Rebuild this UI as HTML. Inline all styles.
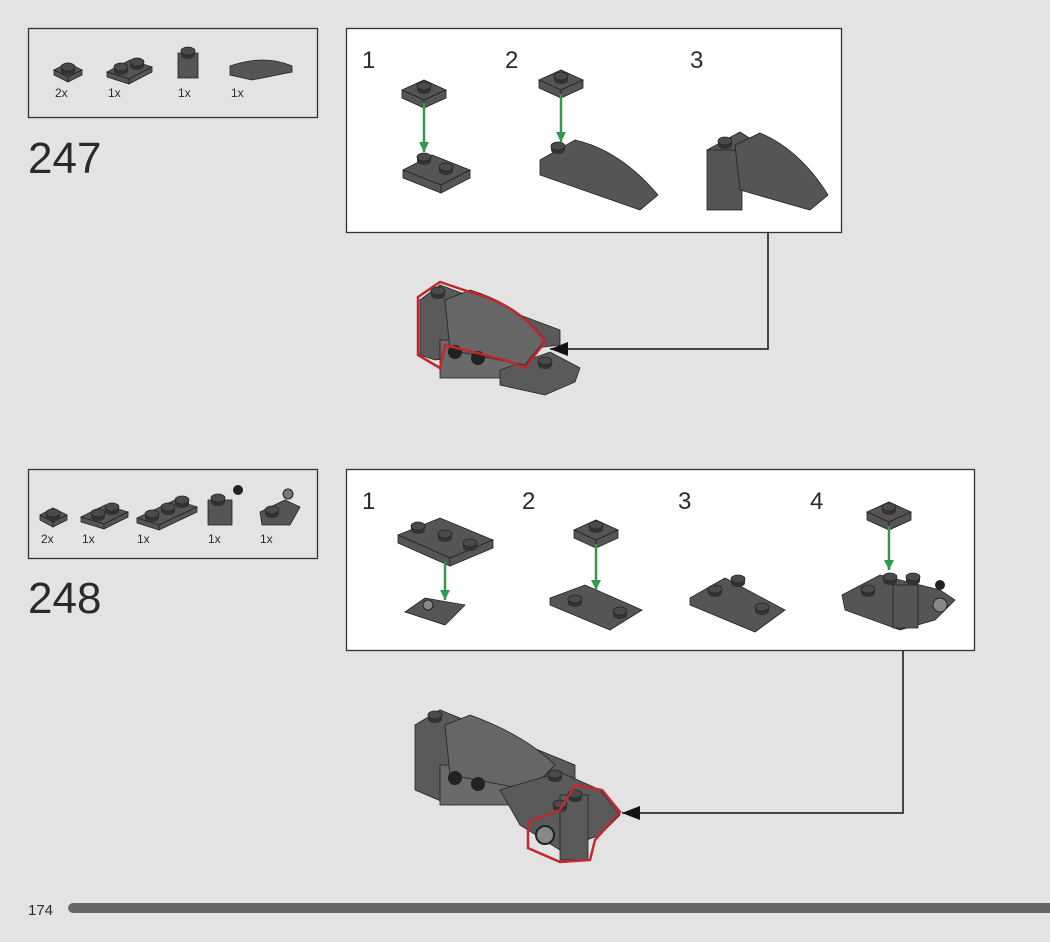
<!DOCTYPE html>
<html><head><meta charset="utf-8"><style>
html,body{margin:0;padding:0;background:#e3e3e3;}
svg{display:block}
text{font-family:"Liberation Sans",sans-serif;fill:#2a2a2a}
</style></head><body>
<svg width="1050" height="942" viewBox="0 0 1050 942" xmlns="http://www.w3.org/2000/svg">
<defs>
<g id="stud"><ellipse cx="0" cy="3" rx="7" ry="4" fill="#333"/><rect x="-7" y="-1" width="14" height="4" fill="#333"/><ellipse cx="0" cy="-1" rx="7" ry="4" fill="#4a4a4a" stroke="#222" stroke-width="0.8"/></g>
<marker id="ar" markerUnits="userSpaceOnUse" markerWidth="20" markerHeight="14" refX="18" refY="7" orient="auto"><path d="M0,0 L18,7 L0,14 Z" fill="#111"/></marker>
<marker id="ga" markerUnits="userSpaceOnUse" markerWidth="12" markerHeight="12" refX="10" refY="6" orient="auto"><path d="M0,1 L10,6 L0,11 Z" fill="#2e9a4a"/></marker>
</defs>
<rect width="1050" height="942" fill="#e3e3e3"/>

<rect x="28.5" y="28.5" width="289" height="89" fill="#e3e3e3" stroke="#333" stroke-width="1.3"/>
<g fill="#555" stroke="#222" stroke-width="0.8">
<polygon points="54,70 68,63 82,70 68,77"/><polygon points="54,70 68,77 68,82 54,75"/><polygon points="68,77 82,70 82,75 68,82"/>
<polygon points="107,72 130,60 152,67 129,79"/><polygon points="107,72 129,79 129,84 107,77"/><polygon points="129,79 152,67 152,72 129,84"/>
<rect x="178" y="53" width="20" height="25"/>
<path d="M230,66 Q265,54 292,66 L292,72 L252,80 L230,75 Z"/>
</g>
<use href="#stud" x="68" y="68"/><use href="#stud" x="121" y="68"/><use href="#stud" x="137" y="63"/><use href="#stud" x="188" y="52"/>
<text x="55" y="97" font-size="12">2x</text><text x="108" y="97" font-size="12">1x</text><text x="178" y="97" font-size="12">1x</text><text x="231" y="97" font-size="12">1x</text>
<text x="28" y="173" font-size="44">247</text>

<rect x="346.5" y="28.5" width="495" height="204" fill="#fff" stroke="#333" stroke-width="1.3"/>
<text x="362" y="68" font-size="24">1</text><text x="505" y="68" font-size="24">2</text><text x="690" y="68" font-size="24">3</text>
<g fill="#555" stroke="#222" stroke-width="0.8">
<polygon points="402,90 424,80 446,90 424,100"/><polygon points="402,90 424,100 424,108 402,98"/><polygon points="424,100 446,90 446,98 424,108"/>
<polygon points="403,170 432,155 470,170 441,185"/><polygon points="403,170 441,185 441,193 403,178"/><polygon points="441,185 470,170 470,178 441,193"/>
<polygon points="539,80 561,70 583,80 561,90"/><polygon points="539,80 561,90 561,98 539,88"/><polygon points="561,90 583,80 583,88 561,98"/>
<path d="M540,160 L575,140 Q620,150 658,195 L640,210 L540,175 Z"/>
<polygon points="707,150 740,132 760,145 730,160"/><rect x="707" y="150" width="35" height="60"/>
<path d="M735,145 L760,133 Q800,150 828,195 L810,210 L740,190 Z"/>
</g>
<use href="#stud" x="424" y="87"/><use href="#stud" x="424" y="158"/><use href="#stud" x="446" y="168"/><use href="#stud" x="561" y="77"/><use href="#stud" x="558" y="147"/><use href="#stud" x="725" y="142"/>
<line x1="424" y1="103" x2="424" y2="152" stroke="#2e9a4a" stroke-width="2.5" marker-end="url(#ga)"/>
<line x1="561" y1="94" x2="561" y2="142" stroke="#2e9a4a" stroke-width="2.5" marker-end="url(#ga)"/>

<g fill="#5a5a5a" stroke="#222" stroke-width="0.8">
<polygon points="420,300 440,285 560,330 560,345 435,360 420,355"/>
<rect x="440" y="340" width="80" height="38" fill="#6a6a6a"/>
<polygon points="500,370 550,352 580,368 575,382 545,395 500,385"/>
<path d="M445,300 L470,290 Q520,305 545,340 L525,365 L450,350 Z" fill="#666"/>
</g>
<circle cx="455" cy="352" r="7" fill="#222"/><circle cx="478" cy="358" r="7" fill="#222"/>
<use href="#stud" x="438" y="292"/><use href="#stud" x="545" y="362"/>
<path d="M418,297 L440,282 L470,292 Q520,305 545,342 L525,368 L505,360 L445,345 L440,368 L418,355 Z" fill="none" stroke="#c0282e" stroke-width="2.5"/>
<polyline points="768,233 768,349 550,349" fill="none" stroke="#111" stroke-width="1.5" marker-end="url(#ar)"/>

<rect x="28.5" y="469.5" width="289" height="89" fill="#e3e3e3" stroke="#333" stroke-width="1.3"/>
<g fill="#555" stroke="#222" stroke-width="0.8">
<polygon points="40,515 53,508 67,515 53,522"/><polygon points="40,515 53,522 53,527 40,520"/><polygon points="53,522 67,515 67,520 53,527"/>
<polygon points="81,517 105,505 128,512 104,524"/><polygon points="81,517 104,524 104,529 81,522"/><polygon points="104,524 128,512 128,517 104,529"/>
<polygon points="137,518 175,500 197,507 159,525"/><polygon points="137,518 159,525 159,530 137,523"/><polygon points="159,525 197,507 197,512 159,530"/>
<rect x="208" y="500" width="24" height="25"/>
<polygon points="260,512 285,500 300,507 290,525 262,525"/>
</g>
<use href="#stud" x="53" y="514"/><use href="#stud" x="98" y="514"/><use href="#stud" x="112" y="508"/><use href="#stud" x="152" y="515"/><use href="#stud" x="168" y="508"/><use href="#stud" x="182" y="501"/><use href="#stud" x="218" y="499"/><use href="#stud" x="272" y="511"/>
<circle cx="238" cy="490" r="5" fill="#222"/><circle cx="288" cy="494" r="5" fill="#777" stroke="#222"/>
<text x="41" y="543" font-size="12">2x</text><text x="82" y="543" font-size="12">1x</text><text x="137" y="543" font-size="12">1x</text><text x="208" y="543" font-size="12">1x</text><text x="260" y="543" font-size="12">1x</text>
<text x="28" y="613" font-size="44">248</text>

<rect x="346.5" y="469.5" width="628" height="181" fill="#fff" stroke="#333" stroke-width="1.3"/>
<text x="362" y="509" font-size="24">1</text><text x="522" y="509" font-size="24">2</text><text x="678" y="509" font-size="24">3</text><text x="810" y="509" font-size="24">4</text>
<g fill="#555" stroke="#222" stroke-width="0.8">
<polygon points="398,535 440,518 493,540 450,558"/><polygon points="398,535 450,558 450,566 398,543"/><polygon points="450,558 493,540 493,548 450,566"/>
<polygon points="405,612 425,598 465,605 445,625"/>
<polygon points="574,530 596,520 618,530 596,540"/><polygon points="574,530 596,540 596,548 574,538"/><polygon points="596,540 618,530 618,538 596,548"/>
<polygon points="550,598 585,585 642,610 610,630 550,605"/>
<polygon points="690,598 725,578 785,610 755,632 690,605"/>
<polygon points="867,512 889,502 911,512 889,522"/><polygon points="867,512 889,522 889,530 867,520"/><polygon points="889,522 911,512 911,520 889,530"/>
<polygon points="842,595 880,575 940,590 955,600 935,620 900,630 845,610"/>
<rect x="893" y="585" width="25" height="43"/>
</g>
<use href="#stud" x="418" y="527"/><use href="#stud" x="445" y="535"/><use href="#stud" x="470" y="544"/><use href="#stud" x="596" y="526"/><use href="#stud" x="575" y="600"/><use href="#stud" x="620" y="612"/>
<use href="#stud" x="715" y="590"/><use href="#stud" x="738" y="580"/><use href="#stud" x="762" y="608"/>
<use href="#stud" x="889" y="508"/><use href="#stud" x="868" y="590"/><use href="#stud" x="890" y="578"/><use href="#stud" x="913" y="578"/>
<circle cx="940" cy="605" r="7" fill="#888" stroke="#222"/><circle cx="940" cy="585" r="5" fill="#222"/><circle cx="428" cy="605" r="5" fill="#888" stroke="#222"/>
<line x1="445" y1="562" x2="445" y2="600" stroke="#2e9a4a" stroke-width="2.5" marker-end="url(#ga)"/>
<line x1="596" y1="544" x2="596" y2="590" stroke="#2e9a4a" stroke-width="2.5" marker-end="url(#ga)"/>
<line x1="889" y1="526" x2="889" y2="570" stroke="#2e9a4a" stroke-width="2.5" marker-end="url(#ga)"/>

<g fill="#5a5a5a" stroke="#222" stroke-width="0.8">
<polygon points="415,725 440,710 575,765 575,790 450,805 415,790"/>
<rect x="440" y="765" width="80" height="40" fill="#6a6a6a"/>
<path d="M445,725 L470,715 Q525,735 555,765 L530,790 L450,775 Z" fill="#666"/>
<polygon points="500,790 560,772 600,790 620,815 600,835 560,850 520,825"/>
<rect x="560" y="795" width="28" height="65"/>
</g>
<circle cx="455" cy="778" r="7" fill="#222"/><circle cx="478" cy="784" r="7" fill="#222"/>
<use href="#stud" x="435" y="716"/><use href="#stud" x="555" y="775"/><use href="#stud" x="575" y="795"/><use href="#stud" x="560" y="805"/>
<circle cx="545" cy="835" r="9" fill="#888" stroke="#222" stroke-width="2"/>
<path d="M528,822 L560,810 L575,785 L602,790 L620,812 L595,840 L590,860 L560,862 L528,848 Z" fill="none" stroke="#c0282e" stroke-width="2.5"/>
<polyline points="903,651 903,813 622,813" fill="none" stroke="#111" stroke-width="1.5" marker-end="url(#ar)"/>

<text x="28" y="915" font-size="15">174</text>
<rect x="68" y="903" width="1000" height="10" rx="5" fill="#666"/>
</svg>
</body></html>
